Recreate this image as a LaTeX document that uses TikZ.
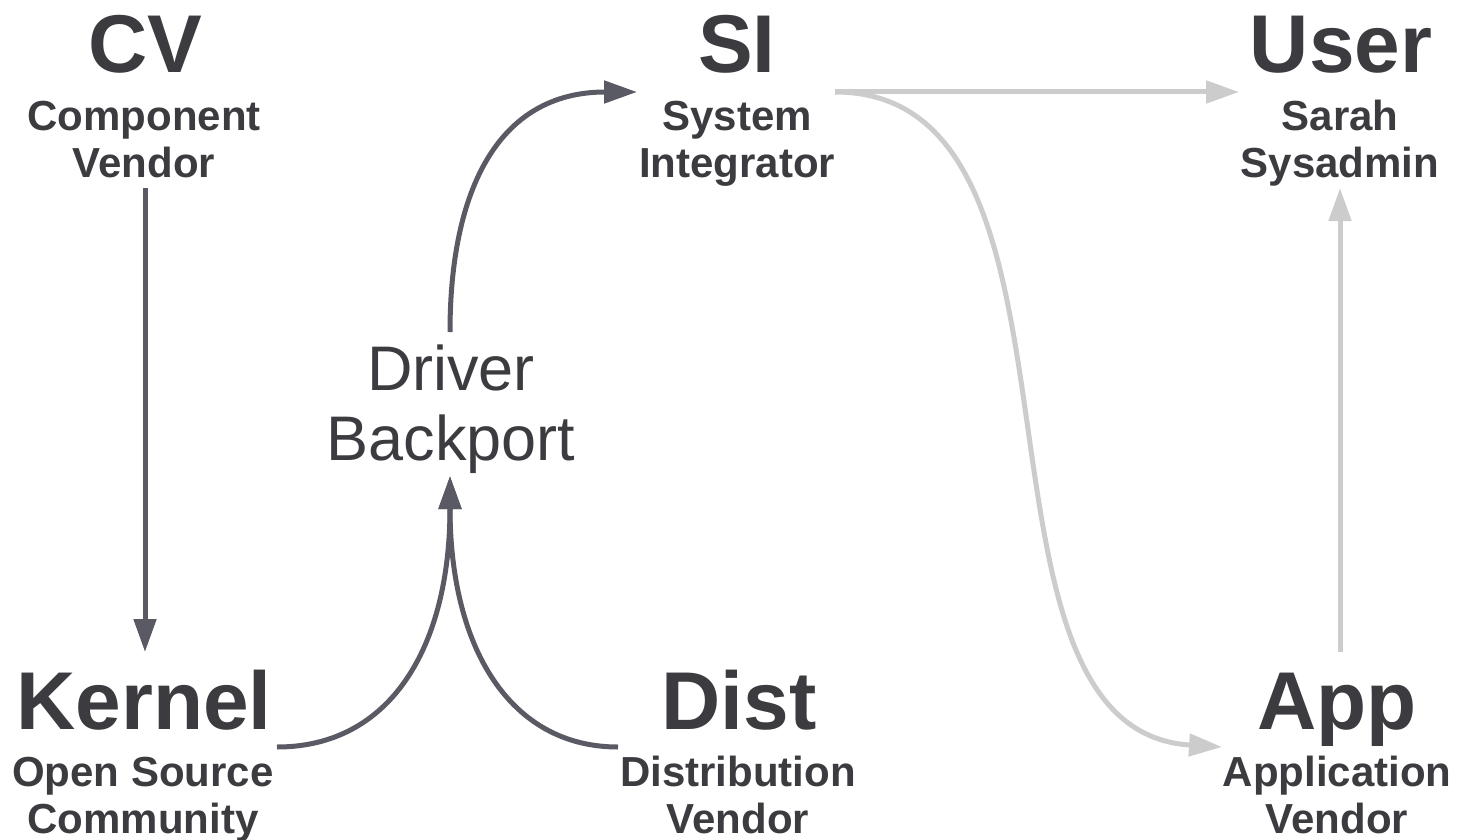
\documentclass[tikz,border=0pt]{standalone}
\usepackage{fontspec}
\setmainfont{Liberation Sans}
\usetikzlibrary{arrows.meta}

\definecolor{ink}{HTML}{3B3B40}
\definecolor{darkflow}{HTML}{5A5A64}
\definecolor{lightflow}{HTML}{CCCCCC}

\tikzset{
	actor/.style={font=\bfseries\fontsize{82}{90}\selectfont, text=ink, inner sep=0pt, anchor=base},
	role/.style={font=\bfseries\fontsize{42}{47}\selectfont, text=ink, inner sep=0pt, align=center, anchor=base},
	patch/.style={font=\fontsize{63}{70}\selectfont, text=ink, inner sep=0pt, align=center, anchor=base},
	flow/.style={line width=5pt, -{Triangle[length=33pt,width=22pt]}},
	hard/.style={flow, draw=darkflow},
	soft/.style={flow, draw=lightflow}
}

\begin{document}
\begin{tikzpicture}[x=1pt,y=-1pt]
	\useasboundingbox (0,0) rectangle (1458,840);
	% top row (role nodes sit on the baseline of their last line)
	\node[actor] (cv) at (145,73) {CV};
	\node[role] (cv-role) at (144,177) {Component\\Vendor};
	\node[actor] (si) at (737,73) {SI};
	\node[role] (si-role) at (737,177) {System\\Integrator};
	\node[actor] (user) at (1341,73) {User};
	\node[role] (user-role) at (1340,177) {Sarah\\Sysadmin};
	% bottom row
	\node[actor] (kernel) at (144,729) {Kernel};
	\node[role] (kernel-role) at (143,833) {Open Source\\Community};
	\node[actor] (dist) at (739,729) {Dist};
	\node[role] (dist-role) at (738,833) {Distribution\\Vendor};
	\node[actor] (app) at (1337,729) {App};
	\node[role] (app-role) at (1337,833) {Application\\Vendor};
	% the backport in the middle
	\node[patch] (backport) at (451,460) {Driver\\Backport};

	% ports where the connectors end
	\coordinate (cv-out) at (145,188);
	\coordinate (kernel-in) at (145,652);
	\coordinate (kernel-out) at (277,747);
	\coordinate (dist-out) at (618,747);
	\coordinate (backport-in) at (450,476);
	\coordinate (backport-out) at (450,332);
	\coordinate (si-in) at (637,92);
	\coordinate (si-out) at (835,92);
	\coordinate (user-in) at (1239,92);
	\coordinate (app-in) at (1222,747);
	\coordinate (app-out) at (1340,652);
	\coordinate (user-up) at (1340,188);

	% light paths
	\draw[soft] (si-out) -- (user-in);
	\draw[soft] (si-out) .. controls (1115,92) and (945,730) .. (app-in);
	\draw[soft] (app-out) -- (user-up);

	% dark paths
	\draw[hard] (cv-out) -- (kernel-in);
	\draw[hard] (kernel-out) .. controls (390,747) and (450,648) .. (backport-in);
	\draw[hard] (dist-out) .. controls (510,747) and (450,648) .. (backport-in);
	\draw[hard] (backport-out) .. controls (450,192) and (497,92) .. (si-in);
\end{tikzpicture}
\end{document}
